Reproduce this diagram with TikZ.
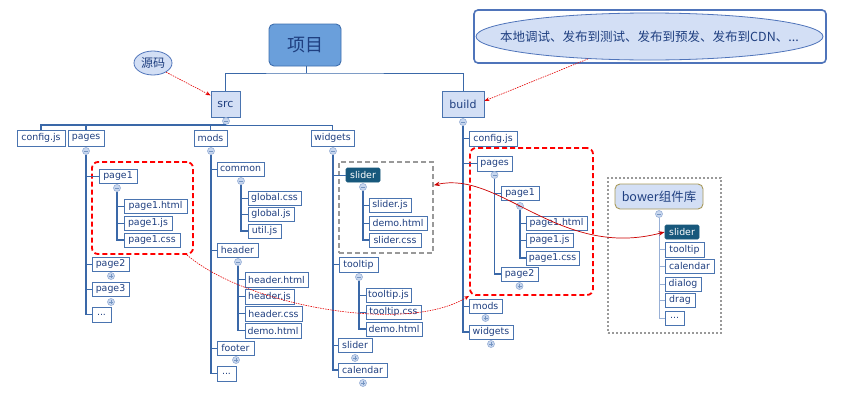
\documentclass[tikz,border=0pt]{standalone}
\usepackage{fontspec}
\setmainfont{DejaVu Sans}
\newfontfamily\cjk{Noto Sans CJK SC}
\usetikzlibrary{arrows.meta,shapes.geometric}
\definecolor{txt}{HTML}{1F3F80}
\definecolor{bd}{HTML}{4A74B0}
\definecolor{ln}{HTML}{3A68A8}
\definecolor{lbf}{HTML}{D3DFF5}
\definecolor{cf}{HTML}{C8D7EF}
\definecolor{cb}{HTML}{98B0D6}
\definecolor{dk}{HTML}{17587C}
\definecolor{xmf}{HTML}{6A9FDB}
\definecolor{xmb}{HTML}{3F6FAE}
\definecolor{olive}{HTML}{A8995A}
\definecolor{ellb}{HTML}{4F74BA}
\tikzset{
 fb/.style={draw=bd, line width=0.9pt, fill=white, text=txt, inner sep=0pt, font=\fontsize{9.4}{10}\selectfont},
 dkb/.style={fill=dk, draw=dk, text=white, rounded corners=1.5pt},
 vl/.style={draw=ln, line width=1.3pt},
 hl/.style={draw=ln, line width=0.8pt},
 cc/.style={circle, draw=cb, fill=cf, minimum size=7pt, inner sep=0pt, line width=0.6pt},
 sg/.style={draw=ln!70, line width=0.6pt},
 redbox/.style={draw=red, line width=1.8pt, dash pattern=on 5pt off 3pt, rounded corners=6pt},
 graybox/.style={draw=gray!80, line width=1.8pt, dash pattern=on 5pt off 3pt},
 dotbox/.style={draw=gray!80, line width=2.4pt, dash pattern=on 2pt off 2pt},
 redarr/.style={draw=red!90!black, line width=0.6pt, dash pattern=on 1.5pt off 1pt, -{Stealth[length=5pt,width=4pt]}},
 redcurve/.style={draw=red!80!black, line width=0.7pt, {Stealth[length=6pt,width=4.5pt]}-{Stealth[length=6pt,width=4.5pt]}},
 lb/.style={draw=bd, fill=lbf, text=txt, line width=0.9pt, inner sep=0pt, font=\fontsize{11}{12}\selectfont},
}
\newcommand\mybox[7][]{\node[fb,#1,minimum width={(#5-#3)*1pt},minimum height={(#6-#4)*1pt}] (#2) at ({(#3+#5)/2},{(#4+#6)/2}) {#7};}
\newcommand\cmin[3]{\node[cc] (#1) at (#2,#3) {}; \draw[sg] ([xshift=-2pt]#1.center) -- ([xshift=2pt]#1.center);}
\newcommand\cpls[3]{\node[cc] (#1) at (#2,#3) {}; \draw[sg] ([xshift=-2pt]#1.center) -- ([xshift=2pt]#1.center) ([yshift=-2pt]#1.center) -- ([yshift=2pt]#1.center);}
\begin{document}
\begin{tikzpicture}[x=1pt,y=-1pt]
\useasboundingbox[fill=white] (0,0) rectangle (845,402);
% frames
\node[redbox, minimum width=101pt, minimum height=92pt] (redL) at (142.5,208) {};
\node[redbox, minimum width=123pt, minimum height=147pt] (redR) at (531.5,221.5) {};
\node[graybox, minimum width=94pt, minimum height=91pt] (grayB) at (386,207.5) {};
\node[dotbox, minimum width=113pt, minimum height=155pt] (bowB) at (664.5,255.5) {};
% top
\node[draw=xmb, fill=xmf, text=txt, rounded corners=5pt, line width=0.9pt, minimum width=72pt, minimum height=42pt, font=\cjk\fontsize{18}{20}\selectfont] (xm) at (305,45) {项目};
\node[lb, minimum width=29pt, minimum height=26pt] (src) at (225.5,104) {src};
\node[lb, minimum width=42pt, minimum height=26pt] (build) at (463,104) {build};
\node[ellipse, draw=ellb, fill=lbf, text=txt, line width=0.8pt, minimum width=38pt, minimum height=24pt, inner sep=0pt, font=\cjk\fontsize{12}{13}\selectfont] (ym) at (153,63) {源码};
\node[draw=ellb, rounded corners=4pt, line width=1.6pt, minimum width=352pt, minimum height=53pt, fill=white] (frame) at (650,36.5) {};
\node[ellipse, draw=ellb, fill=lbf, text=txt, line width=0.8pt, minimum width=347pt, minimum height=47pt, inner xsep=-45pt, inner ysep=0pt, font=\cjk\fontsize{12.5}{14}\selectfont] (ell) at (649.5,36.5) {本地调试、发布到测试、发布到预发、发布到CDN、...};
\coordinate (top) at (306,73);
\draw[hl, line width=1pt] (xm.south -| top) -- (top);
\draw[hl, line width=1pt] (src.north) |- (top) -| (build.north);
\cmin{csrc}{226}{121}
\cmin{cbuild}{463}{122}
% src level 1
\mybox{cfg}{17}{130}{65}{146}{config.js}
\mybox{pagesL}{68}{130}{104}{146}{pages}
\mybox{modsL}{194}{130}{227}{146}{mods}
\mybox{widL}{311}{130}{354}{146}{widgets}
\coordinate (sb) at (226,125);
\draw[vl] (csrc.south) -- (sb);
\draw[vl] (cfg.north) |- (sb);
\draw[vl] (pagesL.north) |- (sb);
\draw[hl] (modsL.north) |- (sb);
\draw[hl] (widL.north) |- (sb);
% pages L
\cmin{cpagesL}{86}{151}
\mybox{pg1L}{99}{169}{137}{183}{page1}
\cmin{cpg1L}{117}{188}
\mybox{p1hL}{124}{199}{187}{213}{page1.html}
\mybox{p1jL}{124}{216}{172}{230}{page1.js}
\mybox{p1cL}{124}{233}{180}{247}{page1.css}
\mybox{pg2L}{92}{257}{129}{271}{page2}
\cpls{cpg2L}{111}{276}
\mybox{pg3L}{92}{282}{129}{296}{page3}
\cpls{cpg3L}{111}{302}
\mybox{dotsL}{92}{307}{111}{322}{...}
\draw[vl] (cpagesL.south) |- (dotsL.west);
\draw[hl] (pg1L.west) -- (pg1L.west -| cpagesL);
\draw[hl] (pg2L.west) -- (pg2L.west -| cpagesL);
\draw[hl] (pg3L.west) -- (pg3L.west -| cpagesL);
\draw[vl] (cpg1L.south) |- (p1cL.west);
\draw[hl] (p1hL.west) -- (p1hL.west -| cpg1L);
\draw[hl] (p1jL.west) -- (p1jL.west -| cpg1L);
% mods L
\cmin{cmodsL}{211}{151}
\mybox{common}{217}{162}{264}{176}{common}
\cmin{ccommon}{241}{181}
\mybox{gcss}{248}{191}{301}{205}{global.css}
\mybox{gjs}{248}{207}{294}{221}{global.js}
\mybox{ujs}{248}{224}{281}{238}{util.js}
\mybox{header}{217}{243}{258}{257}{header}
\cmin{cheader}{238}{262}
\mybox{hhtml}{245}{272}{308}{287}{header.html}
\mybox{hjs}{245}{289}{294}{304}{header.js}
\mybox{hcss}{245}{306}{302}{321}{header.css}
\mybox{hdemo}{245}{323}{301}{338}{demo.html}
\mybox{footer}{217}{341}{254}{355}{footer}
\cpls{cfooter}{236}{360}
\mybox{dotsM}{217}{366}{236}{381}{...}
\draw[vl] (cmodsL.south) |- (dotsM.west);
\draw[hl] (common.west) -- (common.west -| cmodsL);
\draw[hl] (header.west) -- (header.west -| cmodsL);
\draw[hl] (footer.west) -- (footer.west -| cmodsL);
\draw[vl] (ccommon.south) |- (ujs.west);
\draw[hl] (gcss.west) -- (gcss.west -| ccommon);
\draw[hl] (gjs.west) -- (gjs.west -| ccommon);
\draw[vl] (cheader.south) |- (hdemo.west);
\draw[hl] (hhtml.west) -- (hhtml.west -| cheader);
\draw[hl] (hjs.west) -- (hjs.west -| cheader);
\draw[hl] (hcss.west) -- (hcss.west -| cheader);
% widgets L
\cmin{cwidL}{333}{151}
\mybox[dkb]{sliderL}{346}{168}{380}{182}{slider}
\cmin{csliderL}{363}{187}
\mybox{sjs}{369}{198}{411}{212}{slider.js}
\mybox{sdemo}{369}{216}{427}{230}{demo.html}
\mybox{scss}{369}{233}{421}{247}{slider.css}
\mybox{tipL}{339}{257}{378}{272}{tooltip}
\cmin{ctipL}{359}{277}
\mybox{tjs}{366}{288}{411}{302}{tooltip.js}
\mybox{tcss}{366}{305}{421}{319}{tooltip.css}
\mybox{tdemo}{366}{322}{422}{336}{demo.html}
\mybox{slider2}{338}{338}{372}{352}{slider}
\cpls{cslider2}{355}{358}
\mybox{calL}{338}{363}{387}{377}{calendar}
\cpls{ccalL}{363}{383}
\draw[vl] (cwidL.south) |- (calL.west);
\draw[hl] (sliderL.west) -- (sliderL.west -| cwidL);
\draw[hl] (tipL.west) -- (tipL.west -| cwidL);
\draw[hl] (slider2.west) -- (slider2.west -| cwidL);
\draw[vl] (csliderL.south) |- (scss.west);
\draw[hl] (sjs.west) -- (sjs.west -| csliderL);
\draw[hl] (sdemo.west) -- (sdemo.west -| csliderL);
\draw[vl] (ctipL.south) |- (tdemo.west);
\draw[hl] (tjs.west) -- (tjs.west -| ctipL);
\draw[hl] (tcss.west) -- (tcss.west -| ctipL);
% build
\mybox{cfgB}{469}{131}{517}{146}{config.js}
\mybox{pagesB}{477}{156}{512}{171}{pages}
\cmin{cpagesB}{494.5}{175}
\mybox{pg1B}{501}{186}{539}{200}{page1}
\cmin{cpg1B}{520}{206}
\mybox{p1hB}{526}{216}{587}{230}{page1.html}
\mybox{p1jB}{526}{233}{573}{247}{page1.js}
\mybox{p1cB}{526}{251}{579}{265}{page1.css}
\mybox{pg2B}{501}{267}{538}{281}{page2}
\cpls{cpg2B}{519.5}{286}
\mybox{modsB}{469}{299}{502}{313}{mods}
\cpls{cmodsB}{485.5}{318}
\mybox{widB}{469}{325}{513}{339}{widgets}
\cpls{cwidB}{491}{344}
\draw[vl] (cbuild.south) |- (widB.west);
\draw[hl] (cfgB.west) -- (cfgB.west -| cbuild);
\draw[hl] (pagesB.west) -- (pagesB.west -| cbuild);
\draw[hl] (modsB.west) -- (modsB.west -| cbuild);
\draw[vl] (cpagesB.south) |- (pg2B.west);
\draw[hl] (pg1B.west) -- (pg1B.west -| cpagesB);
\draw[vl] (cpg1B.south) |- (p1cB.west);
\draw[hl] (p1hB.west) -- (p1hB.west -| cpg1B);
\draw[hl] (p1jB.west) -- (p1jB.west -| cpg1B);
% bower
\node[draw=olive, fill=lbf, text=txt, rounded corners=5pt, line width=0.9pt, minimum width=88pt, minimum height=25pt, inner sep=0pt, font=\cjk\fontsize{12.5}{14}\selectfont] (bower) at (659,196.5) {bower组件库};
\cmin{cbower}{659}{214}
\mybox[dkb]{bslider}{665}{225}{699}{239}{slider}
\mybox{btip}{665}{242}{704}{257}{tooltip}
\mybox{bcal}{665}{259}{714}{273}{calendar}
\mybox{bdlg}{665}{277}{701}{291}{dialog}
\mybox{bdrag}{665}{293}{695}{307}{drag}
\mybox{bdots}{665}{311}{684}{325}{...}
\draw[draw=cb, line width=0.8pt] (cbower.south) |- (bdots.west);
\foreach \n in {bslider,btip,bcal,bdlg,bdrag}{\draw[draw=cb, line width=0.8pt] (\n.west) -- (\n.west -| cbower);}
% red arrows
\draw[redarr] (ym.-35) -- (src.150);
\draw[redarr] (ell.-160) -- (build.8);
\draw[redcurve] (grayB.25.6) .. controls (500,170) and (560,260) .. (bslider.west);
\draw[redarr] ([xshift=-7pt]redL.south east) .. controls (245,305) and (405,335) .. (redR.south west);
\end{tikzpicture}
\end{document}
